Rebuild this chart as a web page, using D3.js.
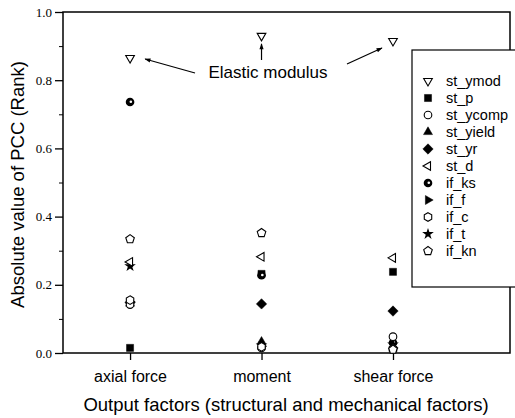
<!DOCTYPE html>
<html>
<head>
<meta charset="utf-8">
<script src="https://cdn.jsdelivr.net/npm/d3@7"></script>
<style>
  body { margin: 0; background: #fff; }
  svg { display: block; }
</style>
</head>
<body>
<div id="chart"></div>
<script>
// data
var categories = ["axial force", "moment", "shear force"];
var seriesNames = ["st_ymod", "st_p", "st_ycomp", "st_yield", "st_yr", "st_d",
                   "if_ks", "if_f", "if_c", "if_t", "if_kn"];
var st_ymod  = [0.865, 0.930, 0.915];
var st_p     = [0.015, 0.232, 0.238];
var st_ycomp = [0.142, 0.015, 0.048];
var st_yield = [0.145, 0.033, 0.020];
var st_yr    = [0.148, 0.144, 0.123];
var st_d     = [0.267, 0.282, 0.279];
var if_ks    = [0.736, 0.228, 0.030];
var if_f     = [0.150, 0.020, 0.015];
var if_c     = [0.155, 0.018, 0.012];
var if_t     = [0.255, 0.022, 0.025];
var if_kn    = [0.334, 0.352, 0.010];
var yTicks = [0.0, 0.2, 0.4, 0.6, 0.8, 1.0];

var values = [st_ymod, st_p, st_ycomp, st_yield, st_yr, st_d, if_ks, if_f, if_c, if_t, if_kn];
// marker kinds
var kinds = ["tdown", "square", "circle", "tup", "diamond", "tleft", "ball", "tright", "hexagon", "star", "pentagon"];
var hollow = { tdown: 1, circle: 1, tleft: 1, hexagon: 1, pentagon: 1 };

var width = 515, height = 418;
var margin = { left: 63, right: 5, top: 12, bottom: 65 };

var svg = d3.select("#chart").append("svg")
  .attr("width", width).attr("height", height);

var x = d3.scaleLinear().domain([-0.51, 2.89]).range([margin.left, width - margin.right]);
var y = d3.scaleLinear().domain([0, 1]).range([height - margin.bottom, margin.top]);

function poly(n, r, rot) {
  var pts = [];
  for (var k = 0; k < n; k++) {
    var a = rot * Math.PI / 180 + k * 2 * Math.PI / n;
    pts.push([r * Math.cos(a), r * Math.sin(a)]);
  }
  return "M" + pts.map(function (p) { return p[0].toFixed(2) + "," + p[1].toFixed(2); }).join("L") + "Z";
}

function drawMarker(g, kind) {
  var fill = hollow[kind] ? "#fff" : "#000";
  var p;
  if (kind === "circle") {
    g.append("circle").attr("r", 3.8).attr("fill", fill).attr("stroke", "#000").attr("stroke-width", 1.1);
    return;
  }
  if (kind === "ball") {
    g.append("circle").attr("r", 4.3).attr("fill", "#000");
    g.append("circle").attr("cx", 0.8).attr("cy", -0.3).attr("r", 1.3).attr("fill", "#fff");
    return;
  }
  if (kind === "star") {
    g.append("path").attr("d", d3.symbol().type(d3.symbolStar).size(42)()).attr("fill", "#000");
    return;
  }
  if (kind === "tdown") p = poly(3, 5, 90);
  if (kind === "tup") p = poly(3, 5.2, -90);
  if (kind === "tleft") p = poly(3, 5, 180);
  if (kind === "tright") p = poly(3, 5.2, 0);
  if (kind === "square") p = poly(4, 5, 45);
  if (kind === "diamond") p = poly(4, 5.2, 0);
  if (kind === "hexagon") p = poly(6, 4.3, -90);
  if (kind === "pentagon") p = poly(5, 4.5, -90);
  g.append("path").attr("d", p).attr("fill", fill)
    .attr("stroke", "#000").attr("stroke-width", hollow[kind] ? 1.1 : 0.5)
    .attr("stroke-linejoin", "miter");
}

// axes
var yAxis = d3.axisLeft(y).tickValues(yTicks).tickFormat(d3.format(".1f")).tickSize(8).tickPadding(3);
var gy = svg.append("g").attr("transform", "translate(" + margin.left + ",0)").call(yAxis);
gy.select(".domain").remove();
gy.selectAll("text").attr("font-family", "'Liberation Serif', serif").attr("font-size", 13).attr("fill", "#000");
gy.selectAll("line").attr("stroke-width", 1.3);

var gyMinor = svg.append("g").attr("transform", "translate(" + margin.left + ",0)")
  .call(d3.axisLeft(y).tickValues([0.1, 0.3, 0.5, 0.7, 0.9]).tickSize(4).tickFormat(""));
gyMinor.select(".domain").remove();

var xAxis = d3.axisBottom(x).tickValues([0, 1, 2]).tickFormat(function (d) { return categories[d]; })
  .tickSize(7).tickPadding(6);
var gx = svg.append("g").attr("transform", "translate(0," + y(0) + ")").call(xAxis);
gx.select(".domain").remove();
gx.selectAll("text").attr("font-family", "'Liberation Sans', Arial, sans-serif")
  .attr("font-size", 16).attr("fill", "#000").attr("dy", "1em");
gx.selectAll("line").attr("stroke-width", 1.3);

// frame
svg.append("rect")
  .attr("x", x.range()[0]).attr("y", y(1))
  .attr("width", x.range()[1] - x.range()[0]).attr("height", y(0) - y(1))
  .attr("fill", "none").attr("stroke", "#000").attr("stroke-width", 1.5);

// axis titles
svg.append("text")
  .attr("transform", "translate(24," + (y(0.5) + 2) + ") rotate(-90)")
  .attr("text-anchor", "middle")
  .attr("font-family", "'Liberation Sans', Arial, sans-serif").attr("font-size", 18.5)
  .text("Absolute value of PCC (Rank)");
svg.append("text")
  .attr("x", 286).attr("y", 411)
  .attr("text-anchor", "middle")
  .attr("font-family", "'Liberation Sans', Arial, sans-serif").attr("font-size", 18.5)
  .text("Output factors (structural and mechanical factors)");

// points: filled markers first, hollow on top
var order = d3.range(seriesNames.length).sort(function (a, b) {
  return (hollow[kinds[a]] ? 1 : 0) - (hollow[kinds[b]] ? 1 : 0);
});
var pts = svg.append("g");
order.forEach(function (si) {
  values[si].forEach(function (v, ci) {
    var g = pts.append("g").attr("transform", "translate(" + x(ci) + "," + y(v) + ")");
    drawMarker(g, kinds[si]);
  });
});

// annotation
var defs = svg.append("defs");
defs.append("marker").attr("id", "ah").attr("viewBox", "0 0 10 10")
  .attr("refX", 9).attr("refY", 5).attr("markerWidth", 7).attr("markerHeight", 6)
  .attr("orient", "auto").attr("markerUnits", "userSpaceOnUse")
  .append("path").attr("d", "M0,1.5L10,5L0,8.5Z").attr("fill", "#000");

svg.append("text")
  .attr("x", 268).attr("y", 78).attr("text-anchor", "middle")
  .attr("font-family", "'Liberation Sans', Arial, sans-serif").attr("font-size", 17)
  .text("Elastic modulus");
var arrows = [
  [195, 73, x(0) + 15, y(st_ymod[0]) + 1],
  [x(1), 60, x(1), y(st_ymod[1]) + 8],
  [347, 64, x(2) - 11, y(st_ymod[2]) + 7]
];
arrows.forEach(function (a) {
  svg.append("line").attr("x1", a[0]).attr("y1", a[1]).attr("x2", a[2]).attr("y2", a[3])
    .attr("stroke", "#000").attr("stroke-width", 1.2).attr("marker-end", "url(#ah)");
});

// legend
var lg = svg.append("g");
lg.append("rect").attr("x", 412).attr("y", 50).attr("width", 110).attr("height", 237)
  .attr("fill", "#fff").attr("stroke", "#000").attr("stroke-width", 1.2);
seriesNames.forEach(function (name, i) {
  var row = lg.append("g").attr("transform", "translate(428," + (81 + i * 17) + ")");
  drawMarker(row, kinds[i]);
  row.append("text").attr("x", 18).attr("dy", "0.35em")
    .attr("font-family", "'Liberation Sans', Arial, sans-serif").attr("font-size", 14.5)
    .text(name);
});
</script>
</body>
</html>
